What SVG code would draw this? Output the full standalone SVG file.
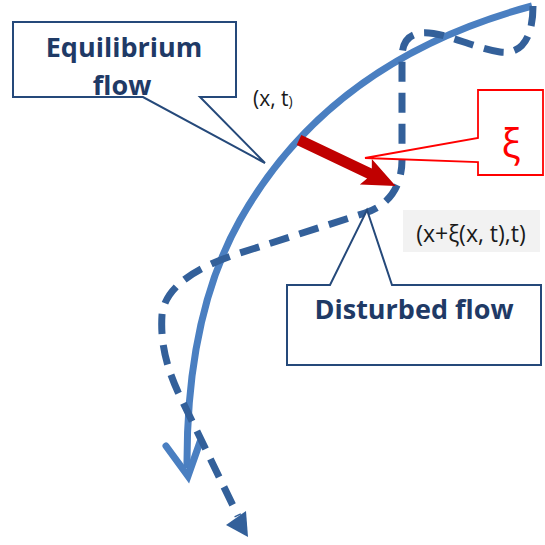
<svg xmlns="http://www.w3.org/2000/svg" width="545" height="545" viewBox="0 0 545 545">
<style>
.callout{fill:#fff;stroke:#25497a;stroke-width:2;stroke-linejoin:miter}
.lbl{font-family:"Open Sans","Liberation Sans",sans-serif;font-weight:bold;fill:#1f3a66;text-anchor:middle}
.coord{font-family:"Open Sans","Liberation Sans",sans-serif;fill:#1a1a1a}
.solid{fill:none;stroke:#4a7fc1;stroke-width:7}
.dash{fill:none;stroke:#33609a;stroke-width:7;stroke-dasharray:20 11}
</style>
<rect width="545" height="545" fill="#fff"/>
<g id="connectors">
  <path class="solid" d="M532,6 Q330,60 240,220 Q186,316 187,468"/>
  <polyline class="solid" points="166,446 188,476 200,442" stroke-linecap="round" stroke-linejoin="miter"/>
  <path class="dash" d="M533,6 C533,40 520,55 500,52 C470,47 440,30 420,33 C405,36 402,45 402,60 L402,160 C402,185 390,205 365,213 L240,253 C200,266 165,285 162,315 C160,345 168,370 178,392 L238,516"/>
  <polygon points="248,537 226,525 246,511" fill="#33609a"/>
</g>
<g id="node-displacement">
  <polygon transform="translate(299,140) rotate(25.4)" points="0,-5.5 78,-5.5 74,-14 107,0 74,14 78,5.5 0,5.5" fill="#c00000"/>
</g>
<g id="node-equilibrium">
  <path class="callout" d="M13,22 H236 V97 H200 L265,163 L143,97 H13 Z"/>
  <text class="lbl" x="124" y="57" font-size="27">Equilibrium</text>
  <text class="lbl" x="122" y="95" font-size="27">flow</text>
</g>
<g id="node-xi">
  <path d="M478,90 H543 V175 H478 V162 L365,158 L478,138 Z" fill="#fff" stroke="#ff0000" stroke-width="1.8"/>
  <text x="511" y="158" font-family="'Open Sans','Liberation Sans',sans-serif" font-size="40" fill="#ff0000" text-anchor="middle">ξ</text>
</g>
<g id="node-disturbed">
  <path class="callout" d="M287,285 H330 L367,210 L392,285 H541 V365 H287 Z"/>
  <text class="lbl" x="414" y="319" font-size="27">Disturbed flow</text>
</g>
<g id="label-xt">
  <text class="coord" x="253" y="106" font-size="21">(x, t<tspan font-size="14">)</tspan></text>
</g>
<g id="label-disturbed-pos">
  <rect x="403" y="210" width="137" height="42" fill="#f2f2f2"/>
  <text class="coord" x="471" y="242" font-size="23" text-anchor="middle">(x+ξ(x, t),t)</text>
</g>
</svg>
